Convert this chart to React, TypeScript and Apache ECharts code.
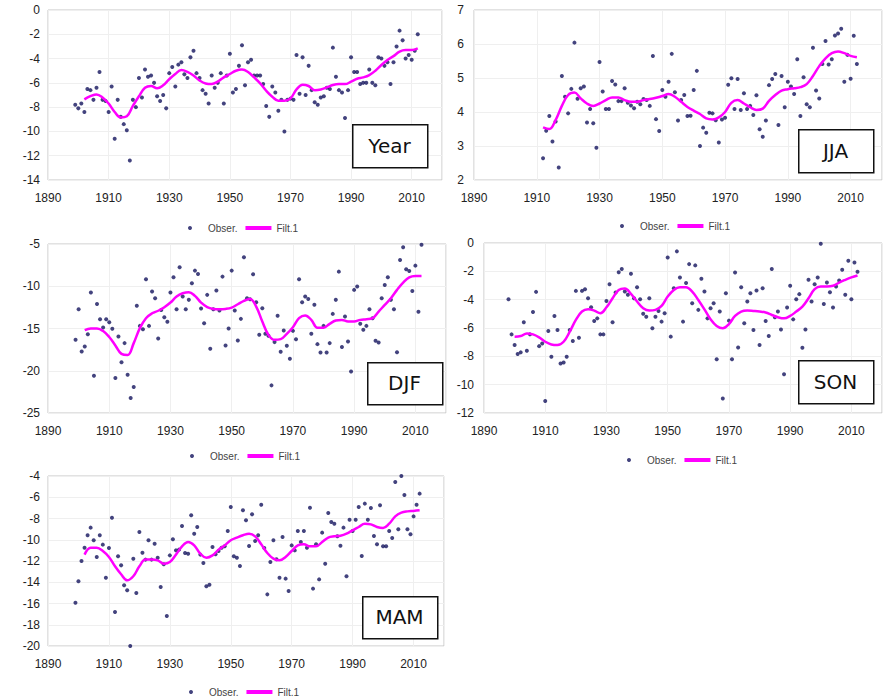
import React, { useEffect, useRef } from "react";
import * as echarts from "echarts";

// ---------- DATA ----------
const X_TICKS = [1890, 1910, 1930, 1950, 1970, 1990, 2010];

// Year (annual), observations 1899..2012
const YEAR_OBS_START = 1899;
const YEAR_OBS = [
  -7.8, -8.1, -7.7, -8.4, -6.5, -6.6, -7.4, -6.4, -5.1, -7.4, -7.5, -8.4, -6.3, -10.6, -7.4, -8.8, -9.4, -9.9, -12.4, -7.4,
  -8.0, -5.6, -7.2, -4.9, -5.5, -5.4, -6.0, -7.1, -7.5, -7.0, -8.1, -5.2, -4.7, -6.3, -4.5, -4.3, -5.3, -5.6, -3.9, -3.35,
  -5.2, -5.6, -6.6, -6.9, -7.7, -5.4, -6.4, -6.0, -5.2, -7.7, -5.4,
  -3.6, -6.8, -6.5, -4.6, -2.9, -6.2, -4.3, -4.1, -5.4, -5.4, -5.4, -6.1, -7.9, -8.8, -6.3, -6.8, -8.3, -7.4, -10.0, -7.4,
  -7.3, -7.4, -3.7, -6.9, -3.9, -7.0, -4.6, -6.6, -7.6, -7.8, -7.2, -7.1, -6.4, -6.5, -3.1, -5.5, -6.6, -6.8, -8.9, -6.6,
  -3.9, -5.1, -5.1, -6.1, -6.0, -6.0, -4.9, -6.0, -6.2, -3.9, -4.0, -4.6, -4.3, -6.1, -4.3, -3.0, -1.7, -2.5, -4.0, -3.7,
  -4.1, -3.35, -2.0,
];
const YEAR_FILT_START = 1902;
const YEAR_FILT = [
  -7.36, -7.1, -6.95, -7.2, -7.7, -8.4, -8.85, -8.75, -7.9, -7.1,
  -6.4, -6.25, -6.45, -6.2, -5.7, -5.27, -4.95, -5.1, -5.4, -5.8,
  -6.05, -6.1, -5.9, -5.55, -5.27, -5.0, -4.9, -5.1, -5.55, -6.04,
  -6.65, -7.14, -7.47, -7.47, -7.28, -6.54, -6.15, -6.26, -6.6, -6.54,
  -6.37, -6.18, -6.1, -6.1, -5.9, -5.66, -5.55, -5.36, -5.0, -4.53,
  -4.12, -3.8, -3.43, -3.3, -3.3, -3.16,
];

// JJA, observations 1912..2012
const JJA_OBS_START = 1912;
const JJA_OBS = [
  2.64, 3.45, 3.88, 3.13, 3.72, 2.37, 5.06, 4.45, 3.96, 4.68, 6.04, 4.39, 4.7, 4.75, 3.69, 4.09, 3.67, 2.95, 5.47, 4.6,
  4.09, 4.09, 4.91, 4.81, 4.32, 4.32, 4.7, 4.27, 4.19, 4.11, 4.3, 4.23, 4.38, 4.35, 4.18, 5.65, 3.79, 3.44, 4.65, 4.45,
  4.89,
  5.71, 4.58, 3.75, 4.35, 4.5, 3.88, 3.89, 4.65, 5.21, 3.0, 3.54, 3.39, 3.98, 3.96, 3.76, 3.1, 3.78, 3.83, 4.8, 4.99,
  4.09, 4.97, 4.06, 4.55, 4.09, 4.18, 3.91, 4.49, 3.49, 3.27, 3.75, 4.79, 4.97, 5.12, 3.62, 5.06, 4.14, 4.89, 4.75, 4.53,
  5.55, 3.88, 5.02, 4.23, 4.14, 5.89, 4.63, 4.4, 5.41, 6.09, 5.4, 5.55, 6.25, 6.31, 6.45, 4.89, 5.68, 4.98, 6.24, 5.41,
];
const JJA_FILT_START = 1912;
const JJA_FILT = [
  3.55, 3.5, 3.76, 4.18, 4.5, 4.57, 4.4, 4.25, 4.18, 4.25,
  4.35, 4.43, 4.43, 4.35, 4.3, 4.3, 4.35, 4.38, 4.42, 4.47,
  4.53, 4.45, 4.3, 4.15, 4.04, 3.94, 3.81, 3.78, 3.84, 4.0,
  4.27, 4.35, 4.25, 4.14, 4.06, 4.1, 4.33, 4.5, 4.63, 4.67,
  4.7, 4.73, 4.82, 5.06, 5.35, 5.58, 5.73, 5.78, 5.73, 5.65,
  5.61,
];

// DJF, observations 1899..2012
const DJF_OBS_START = 1899;
const DJF_OBS = [
  -16.34, -12.72, -17.72, -17.13, -15.67, -10.75, -20.6, -12.09, -13.9, -14.88, -13.9, -14.25, -15.04, -20.87, -15.94, -19.0,
  -16.73, -20.47, -23.23, -21.93, -12.32, -14.69, -15.08, -9.17, -14.69, -10.63, -11.42, -16.18, -12.8, -13.66, -14.21, -10.75,
  -8.94, -12.72, -7.76, -11.22, -12.72, -11.61, -9.65, -8.15, -8.54, -12.64, -14.37, -11.02, -17.4, -12.72, -10.51, -12.87,
  -8.86, -17.0, -15.0,
  -8.15, -12.87, -16.42, -13.86, -6.57, -11.42, -11.54, -8.58, -11.89, -15.75, -12.6, -15.63, -15.87, -21.73, -16.61, -13.5,
  -17.76, -15.24, -17.05, -18.58, -15.28, -16.26, -9.17, -11.89, -11.22, -11.5, -15.63, -12.2, -16.85, -17.83, -14.69, -17.83,
  -16.73, -13.27, -11.61, -8.27, -17.2, -13.58, -16.54, -20.08, -10.43, -10.04, -14.45, -15.16, -14.69, -12.72, -13.78, -16.46,
  -16.65, -11.42, -9.84, -8.94, -11.61, -12.72, -17.8, -6.89, -5.39, -7.99, -8.19, -10.55, -7.56, -13.03, -5.08,
];
const DJF_FILT_START = 1902;
const DJF_FILT = [
  -15.2, -15.0, -15.0, -15.3, -16.0, -17.0, -18.0, -18.15, -16.73, -14.96,
  -13.78, -13.2, -12.9, -12.48, -11.93, -11.22, -10.83, -10.7, -11.14, -11.93,
  -12.48, -12.68, -12.72, -12.68, -12.52, -12.13, -11.73, -11.5, -12.4, -14.17,
  -15.75, -16.34, -16.26, -15.63, -14.84, -13.78, -13.45, -13.98, -14.9, -14.9,
  -14.45, -14.06, -13.98, -14.17, -14.17, -13.98, -13.9, -13.78, -13.0, -12.2,
  -11.42, -10.43, -9.57, -8.94, -8.78, -8.78,
];

// SON, observations 1898..2012
const SON_OBS_START = 1898;
const SON_OBS = [
  -3.97, -6.45, -7.2, -7.84, -7.72, -5.6, -7.6, -6.45, -4.87, -3.45, -7.28, -7.09, -11.15, -6.21, -8.03, -5.15, -6.14, -8.5,
  -8.43, -8.03, -6.14, -6.92, -3.38, -6.69, -3.38, -3.26, -3.9, -4.54, -5.5, -5.32, -6.45, -6.45, -4.09, -2.91, -5.6, -3.5,
  -2.06, -1.84, -3.43, -3.66, -2.17, -3.9, -3.12, -3.97, -5.0, -5.2, -3.9, -6.02, -5.2, -4.8, -5.55, -4.96, -1.02,
  -6.61, -3.19, -0.59, -2.43, -5.55, -2.83, -1.49, -4.25, -1.58, -4.72, -2.53, -3.43, -5.32, -4.61, -4.25, -8.2, -4.84, -10.98,
  -3.54, -5.48, -8.2, -2.08, -7.37, -3.12, -5.67, -4.13, -3.54, -6.14, -3.35, -7.2, -3.19, -5.5, -6.57, -1.84, -5.24, -4.84,
  -6.1, -9.26, -4.56, -3.02, -5.39, -3.97, -3.61, -7.39, -6.1, -2.6, -4.13, -2.91, -2.43, -0.05, -4.3, -2.79, -3.47, -4.56,
  -3.07, -2.65, -1.89, -3.66, -1.25, -3.97, -1.37, -2.03,
];
const SON_FILT_START = 1900;
const SON_FILT = [
  -6.61, -6.57, -6.38, -6.45, -6.66, -6.97, -7.16, -7.2, -6.97, -6.26,
  -5.43, -4.84, -4.68, -4.77, -4.96, -4.54, -3.9, -3.31, -3.21, -3.59,
  -4.13, -4.6, -4.77, -4.72, -4.44, -3.78, -3.31, -3.12, -3.12, -3.43,
  -4.02, -4.68, -5.39, -5.86, -6.02, -5.72, -5.15, -4.84, -4.77, -4.8,
  -4.84, -4.91, -5.08, -5.24, -5.32, -5.15, -4.84, -4.49, -3.9, -3.26,
  -3.07, -3.07, -3.02, -2.79, -2.6, -2.43, -2.29,
];

// MAM, observations 1899..2012
const MAM_OBS_START = 1899;
const MAM_OBS = [
  -15.92, -13.91, -12.0, -10.75, -9.58, -8.86, -10.05, -11.62, -9.58, -10.46, -13.57, -10.78, -7.92, -16.8, -11.56, -12.41,
  -14.29, -14.76, -20.0, -11.78, -15.01, -9.27, -11.22, -11.87, -10.05, -11.87, -10.37, -11.69, -14.45, -12.31, -17.18, -11.47,
  -9.96, -11.0, -10.93, -8.71, -11.25, -11.31, -7.7, -9.43, -8.8, -11.4, -12.19, -14.38, -14.23, -10.68, -11.37, -11.06,
  -10.75, -10.62, -9.18,
  -6.92, -11.56, -11.69, -12.47, -7.23, -8.17, -10.59, -7.61, -10.12, -9.58, -6.7, -10.78, -15.14, -12.09, -10.05, -11.84,
  -13.57, -9.74, -13.66, -14.82, -10.53, -11.0, -9.18, -10.21, -9.18, -10.75, -6.98, -14.6, -10.43, -13.73, -9.33, -12.25,
  -7.48, -8.33, -8.49, -9.68, -10.56, -8.86, -13.44, -8.11, -9.18, -8.11, -6.92, -11.53, -6.6, -8.11, -7.01, -9.65,
  -10.43, -6.76, -10.62, -10.62, -9.18, -9.84, -4.56, -9.02, -4.0, -5.79, -9.02, -9.49, -7.8, -6.7, -5.66,
];
const MAM_FILT_START = 1902;
const MAM_FILT = [
  -11.4, -10.75, -10.75, -11.06, -11.62, -12.5, -13.25, -13.82, -13.44, -12.5,
  -11.87, -11.87, -11.94, -12.25, -12.09, -11.4, -10.62, -10.21, -10.53, -11.31,
  -11.69, -11.47, -10.93, -10.53, -10.05, -9.8, -9.58, -9.43, -9.68, -10.43,
  -11.25, -11.78, -11.94, -11.62, -11.06, -10.53, -10.43, -10.62, -10.62, -10.21,
  -9.8, -9.68, -9.62, -9.43, -9.11, -8.8, -8.49, -8.55, -8.8, -8.89,
  -8.49, -7.8, -7.45, -7.33, -7.29, -7.23,
];

const FILT_STEP = 2; // filtered curve read every 2 years
const OBS_NAME = "Obser.";
const FILT_NAME = "Filt.1";

// ---------- LAYOUT ----------
type Panel = {
  label: string;
  obsStart: number;
  obs: number[];
  filtStart: number;
  filt: number[];
  yMin: number;
  yMax: number;
  yStep: number;
  grid: { left: number; top: number; width: number; height: number };
  yLabelMargin: number;
  box: { x: number; y: number; w: number; h: number };
  legend: { left: number; top: number };
};

const PANELS: Panel[] = [
  {
    label: "Year", obsStart: YEAR_OBS_START, obs: YEAR_OBS, filtStart: YEAR_FILT_START, filt: YEAR_FILT,
    yMin: -14, yMax: 0, yStep: 2,
    grid: { left: 48, top: 10, width: 394, height: 170 }, yLabelMargin: 8,
    box: { x: 352, y: 124, w: 75, h: 43 }, legend: { left: 183, top: 218 },
  },
  {
    label: "JJA", obsStart: JJA_OBS_START, obs: JJA_OBS, filtStart: JJA_FILT_START, filt: JJA_FILT,
    yMin: 2, yMax: 7, yStep: 1,
    grid: { left: 474, top: 10, width: 408, height: 170 }, yLabelMargin: 10,
    box: { x: 798, y: 129, w: 75, h: 43 }, legend: { left: 615, top: 216 },
  },
  {
    label: "DJF", obsStart: DJF_OBS_START, obs: DJF_OBS, filtStart: DJF_FILT_START, filt: DJF_FILT,
    yMin: -25, yMax: -5, yStep: 5,
    grid: { left: 48, top: 244, width: 398, height: 169 }, yLabelMargin: 8,
    box: { x: 367, y: 362, w: 75, h: 42 }, legend: { left: 185, top: 446 },
  },
  {
    label: "SON", obsStart: SON_OBS_START, obs: SON_OBS, filtStart: SON_FILT_START, filt: SON_FILT,
    yMin: -12, yMax: 0, yStep: 2,
    grid: { left: 484, top: 243, width: 398, height: 170 }, yLabelMargin: 10,
    box: { x: 798, y: 360, w: 75, h: 43 }, legend: { left: 622, top: 450 },
  },
  {
    label: "MAM", obsStart: MAM_OBS_START, obs: MAM_OBS, filtStart: MAM_FILT_START, filt: MAM_FILT,
    yMin: -20, yMax: -4, yStep: 2,
    grid: { left: 48, top: 476, width: 396, height: 170 }, yLabelMargin: 8,
    box: { x: 362, y: 596, w: 75, h: 42 }, legend: { left: 184, top: 682 },
  },
];

const AXIS_FONT = "'Liberation Sans', Arial, sans-serif";
const BOX_FONT = "'DejaVu Sans', Verdana, sans-serif";
const DOT_COLOR = "#14145e";
const LINE_COLOR = "#ff00ff";

function buildOption() {
  const grid: any[] = [];
  const xAxis: any[] = [];
  const yAxis: any[] = [];
  const series: any[] = [];
  const legend: any[] = [];
  const graphic: any[] = [];

  PANELS.forEach((p, i) => {
    grid.push({
      left: p.grid.left, top: p.grid.top, width: p.grid.width, height: p.grid.height,
      show: true, borderColor: "#c4c4c4", borderWidth: 1, backgroundColor: "#ffffff",
    });
    xAxis.push({
      type: "value", gridIndex: i, min: X_TICKS[0], max: 2020, interval: 20,
      axisLine: { show: false }, axisTick: { show: false },
      splitLine: { show: true, lineStyle: { color: "#efefef", width: 1 } },
      axisLabel: {
        fontSize: 12, color: "#222", fontFamily: AXIS_FONT, margin: 12, showMaxLabel: false,
        formatter: (v: number) => String(v),
      },
    });
    yAxis.push({
      type: "value", gridIndex: i, min: p.yMin, max: p.yMax, interval: p.yStep,
      axisLine: { show: false }, axisTick: { show: false },
      splitLine: { show: true, lineStyle: { color: "#efefef", width: 1 } },
      axisLabel: {
        fontSize: 12, color: "#222", fontFamily: AXIS_FONT, margin: p.yLabelMargin,
        formatter: (v: number) => String(v),
      },
    });
    series.push({
      name: OBS_NAME, type: "scatter", xAxisIndex: i, yAxisIndex: i,
      symbol: "circle", symbolSize: 4,
      itemStyle: { color: DOT_COLOR },
      data: p.obs.map((v, k) => [p.obsStart + k, v]),
      z: 2,
    });
    series.push({
      name: FILT_NAME, type: "line", xAxisIndex: i, yAxisIndex: i,
      symbol: "none", smooth: 0.4,
      lineStyle: { color: LINE_COLOR, width: 2.5 },
      itemStyle: { color: LINE_COLOR },
      data: p.filt.map((v, k) => [p.filtStart + k * FILT_STEP, v]),
      z: 3,
    });
    legend.push({
      left: p.legend.left, top: p.legend.top, orient: "horizontal",
      itemWidth: 26, itemHeight: 4, itemGap: 8, selectedMode: false,
      textStyle: { fontSize: 10, color: "#444", fontFamily: AXIS_FONT },
      data: [
        { name: OBS_NAME, icon: "circle" },
        { name: FILT_NAME, icon: "rect", itemStyle: { color: LINE_COLOR } },
      ],
    });
    graphic.push({
      type: "rect", left: p.box.x, top: p.box.y, z: 10,
      shape: { width: p.box.w, height: p.box.h },
      style: { fill: "#ffffff", stroke: "#111", lineWidth: 1.5 },
    });
    graphic.push({
      type: "text", z: 11,
      x: p.box.x + p.box.w / 2, y: p.box.y + p.box.h / 2,
      style: {
        text: p.label, fill: "#111", font: `20px ${BOX_FONT}`,
        align: "center", verticalAlign: "middle", textAlign: "center", textVerticalAlign: "middle",
      },
    });
  });

  return {
    animation: false,
    backgroundColor: "#ffffff",
    grid, xAxis, yAxis, series, legend, graphic,
  };
}

export default function App() {
  const ref = useRef<HTMLDivElement>(null);
  useEffect(() => {
    if (!ref.current) return;
    const chart = echarts.init(ref.current, undefined, { renderer: "svg" });
    chart.setOption(buildOption());
    return () => chart.dispose();
  }, []);
  return (
    <div
      ref={ref}
      style={{ position: "absolute", left: 0, top: 0, width: 885, height: 697, background: "#fff" }}
    />
  );
}
